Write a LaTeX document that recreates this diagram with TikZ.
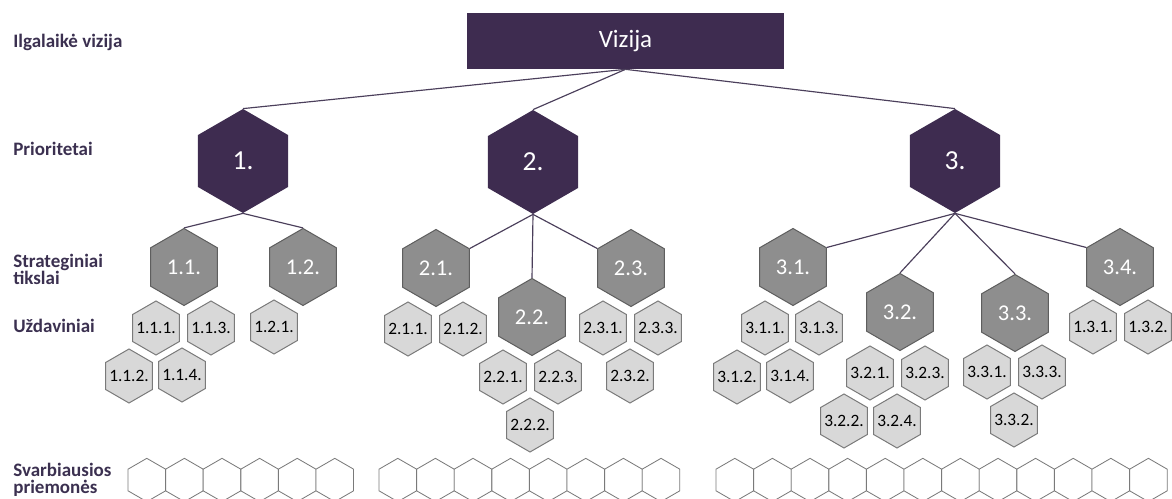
\documentclass[tikz,border=0pt]{standalone}
\usepackage{fontspec}
\setmainfont{Carlito}
\usetikzlibrary{shapes.geometric}

\definecolor{vizpurple}{HTML}{3E2C50}
\definecolor{goalgray}{HTML}{8E8E8E}
\definecolor{goalline}{HTML}{5E5E5E}
\definecolor{taskgray}{HTML}{D8D8D8}
\definecolor{taskline}{HTML}{7A7A7A}
\definecolor{linkcol}{HTML}{4B3F5B}
\definecolor{lblcol}{HTML}{3B3050}

\tikzset{
  hexa/.style={regular polygon, regular polygon sides=6, shape border rotate=30, inner sep=0pt},
  prio/.style={hexa, minimum size=62.4pt, fill=vizpurple, text=white, font=\fontsize{16.5}{16.5}\selectfont},
  goal/.style={hexa, minimum size=46.2pt, fill=goalgray, draw=goalline, line width=0.6pt, text=white, font=\fontsize{13.5}{13.5}\selectfont},
  task/.style={hexa, inner sep=-4pt, minimum size=32.4pt, fill=taskgray, draw=taskline, line width=0.6pt, text=black, font=\fontsize{10.4}{10.4}\selectfont},
  means/.style={hexa, minimum size=26pt, fill=white, draw=taskline, line width=0.5pt},
  level/.style={anchor=base west, align=left, inner sep=0pt, text=lblcol, font=\fontsize{11.4}{10.2}\selectfont\bfseries},
  link/.style={draw=linkcol, line width=0.7pt}
}

\begin{document}
\begin{tikzpicture}[x=0.6pt,y=-0.6pt]
        \useasboundingbox (0,0) rectangle (1172,499);
        % level labels
        \node[level] (lbl_vizija) at (13,48) {Ilgalaikė vizija};
        \node[level] (lbl_prio) at (13,156) {Prioritetai};
        \node[level] (lbl_goal) at (13,285) {Strateginiai\\tikslai};
        \node[level] (lbl_task) at (13,333) {Uždaviniai};
        \node[level] (lbl_means) at (13,494) {Svarbiausios\\priemonės};
        % vision and priorities
        \node[rectangle, fill=vizpurple, minimum width=190.2pt, minimum height=33.6pt, text=white, font=\fontsize{15}{15}\selectfont] (viz) at (625.5,41) {Vizija};
        \node[prio] (prio_1) at (243,161) {1.};
        \node[prio] (prio_2) at (533,162) {2.};
        \node[prio] (prio_3) at (955,161) {3.};
        % strategic goals
        \node[goal] (goal_11) at (184,267) {1.1.};
        \node[goal] (goal_12) at (303,267) {1.2.};
        \node[goal] (goal_21) at (436,268) {2.1.};
        \node[goal] (goal_22) at (532,317) {2.2.};
        \node[goal] (goal_23) at (631,268) {2.3.};
        \node[goal] (goal_31) at (793,267) {3.1.};
        \node[goal] (goal_32) at (900,312) {3.2.};
        \node[goal] (goal_33) at (1015,313) {3.3.};
        \node[goal] (goal_34) at (1120,267) {3.4.};
        % tasks
        \node[task] (task_111) at (156,328) {1.1.1.};
        \node[task] (task_113) at (211,328) {1.1.3.};
        \node[task] (task_112) at (129,376) {1.1.2.};
        \node[task] (task_114) at (182,375) {1.1.4.};
        \node[task] (task_121) at (274,327) {1.2.1.};
        \node[task] (task_211) at (408,329) {2.1.1.};
        \node[task] (task_212) at (463,329) {2.1.2.};
        \node[task] (task_221) at (503,377) {2.2.1.};
        \node[task] (task_223) at (558,377) {2.2.3.};
        \node[task] (task_222) at (530,425) {2.2.2.};
        \node[task] (task_231) at (603,328) {2.3.1.};
        \node[task] (task_233) at (658,328) {2.3.3.};
        \node[task] (task_232) at (630,376) {2.3.2.};
        \node[task] (task_311) at (765,328) {3.1.1.};
        \node[task] (task_313) at (819,328) {3.1.3.};
        \node[task] (task_312) at (737,377) {3.1.2.};
        \node[task] (task_314) at (790,376) {3.1.4.};
        \node[task] (task_321) at (870,373) {3.2.1.};
        \node[task] (task_323) at (925,373) {3.2.3.};
        \node[task] (task_322) at (844,421) {3.2.2.};
        \node[task] (task_324) at (897,421) {3.2.4.};
        \node[task] (task_331) at (987,372) {3.3.1.};
        \node[task] (task_333) at (1042,372) {3.3.3.};
        \node[task] (task_332) at (1014,420) {3.3.2.};
        \node[task] (task_131) at (1093,327) {1.3.1.};
        \node[task] (task_132) at (1148,327) {1.3.2.};
        % means (empty)
        \foreach \i in {0,...,5}
          \node[means] (means_1-\i) at ({146.8+37.6*\i},480) {};
        \foreach \i in {0,...,7}
          \node[means] (means_2-\i) at ({397.8+37.6*\i},480) {};
        \foreach \i in {0,...,11}
          \node[means] (means_3-\i) at ({734.8+37.6*\i},480) {};
        % links
        \draw[link] (viz.south) -- (prio_1.90);
        \draw[link] (viz.south) -- (prio_2.90);
        \draw[link] (viz.south) -- (prio_3.90);
        \draw[link] (prio_1.270) -- (goal_11.90);
        \draw[link] (prio_1.270) -- (goal_12.90);
        \draw[link] (prio_2.270) -- (goal_21.30);
        \draw[link] (prio_2.270) -- (goal_22.90);
        \draw[link] (prio_2.270) -- (goal_23.150);
        \draw[link] (prio_3.270) -- (goal_31.30);
        \draw[link] (prio_3.270) -- (goal_32.90);
        \draw[link] (prio_3.270) -- (goal_33.90);
        \draw[link] (prio_3.270) -- (goal_34.150);
\end{tikzpicture}
\end{document}
